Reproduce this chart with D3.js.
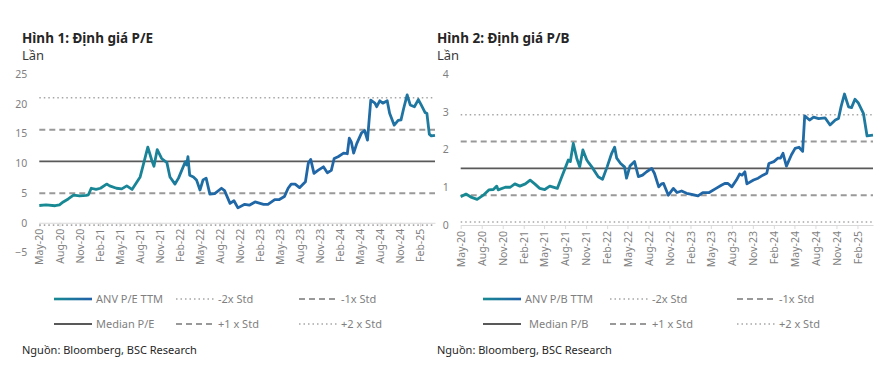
<!DOCTYPE html>
<meta charset="utf-8">
<html>
<head>
<style>
  body { margin: 0; background: #fff; }
  svg text { font-family: "Noto Sans", Lato, sans-serif; }
  .title { font-weight: bold; font-size: 13.5px; fill: #262626; }
  .unit { font-size: 13px; fill: #3a3a3a; }
  .axis text { fill: #7f7f7f; font-size: 10.5px; }
  .axis line, .axis path { stroke: #d9d9d9; }
  .legend { fill: #7f7f7f; font-size: 11px; }
  .source { fill: #262626; font-size: 11px; }
</style>
</head>
<body>
<div id="chart"></div>
<script src="https://cdn.jsdelivr.net/npm/d3@7"></script>
<script>

// P/E TTM
var peSeries = [
  ["2020-05-01", 2.9], ["2020-06-01", 3.0], ["2020-07-12", 2.86], ["2020-08-01", 3.0],
  ["2020-08-18", 3.5], ["2020-09-10", 4.0], ["2020-10-04", 4.65], ["2020-11-01", 4.5],
  ["2020-12-01", 4.6], ["2020-12-11", 4.7], ["2020-12-24", 5.8], ["2021-01-15", 5.6],
  ["2021-02-04", 5.8], ["2021-03-04", 6.5], ["2021-03-18", 6.2], ["2021-04-18", 5.8],
  ["2021-05-12", 5.7], ["2021-06-04", 6.2], ["2021-06-28", 5.6], ["2021-08-04", 7.7],
  ["2021-08-18", 9.7], ["2021-09-08", 12.7], ["2021-09-26", 10.5], ["2021-10-06", 9.5],
  ["2021-10-21", 12.3], ["2021-11-10", 10.8], ["2021-12-04", 10.1], ["2021-12-18", 7.7],
  ["2022-01-10", 6.5], ["2022-01-26", 7.5], ["2022-02-26", 10.25], ["2022-03-04", 9.7],
  ["2022-03-10", 11.1], ["2022-03-18", 8.0], ["2022-04-04", 7.7], ["2022-04-18", 7.2],
  ["2022-05-04", 5.5], ["2022-05-18", 7.2], ["2022-06-01", 7.5], ["2022-06-18", 4.8],
  ["2022-07-10", 4.9], ["2022-08-10", 5.8], ["2022-08-24", 5.4], ["2022-09-18", 3.25],
  ["2022-10-06", 3.7], ["2022-10-24", 2.5], ["2022-11-24", 3.1], ["2022-12-15", 2.95],
  ["2023-01-10", 3.5], ["2023-02-18", 3.1], ["2023-03-10", 3.1], ["2023-04-10", 3.9],
  ["2023-05-01", 3.9], ["2023-05-24", 4.4], ["2023-06-10", 5.8], ["2023-06-24", 6.5],
  ["2023-07-12", 6.5], ["2023-08-01", 5.9], ["2023-08-28", 6.9], ["2023-09-10", 10.0],
  ["2023-09-21", 10.65], ["2023-10-06", 8.3], ["2023-10-24", 8.8], ["2023-11-18", 9.4],
  ["2023-12-06", 8.4], ["2023-12-24", 8.8], ["2024-01-06", 10.8], ["2024-01-24", 11.1],
  ["2024-02-18", 11.7], ["2024-03-06", 11.6], ["2024-03-15", 14.2], ["2024-03-24", 13.6],
  ["2024-04-04", 11.7], ["2024-04-18", 13.3], ["2024-05-10", 15.1], ["2024-05-24", 15.5],
  ["2024-06-06", 13.9], ["2024-06-21", 20.6], ["2024-07-10", 20.1], ["2024-07-18", 19.5],
  ["2024-08-01", 20.5], ["2024-08-15", 20.1], ["2024-09-04", 20.5], ["2024-09-15", 18.4],
  ["2024-10-06", 16.4], ["2024-10-24", 17.2], ["2024-11-06", 17.3], ["2024-11-18", 19.2],
  ["2024-12-04", 21.5], ["2024-12-18", 19.8], ["2025-01-06", 19.5], ["2025-01-24", 20.7],
  ["2025-02-06", 19.8], ["2025-02-24", 18.5], ["2025-03-04", 18.4], ["2025-03-15", 14.9],
  ["2025-03-24", 14.6], ["2025-04-10", 14.7]
];

// P/B TTM
var pbSeries = [
  ["2020-05-01", 0.75], ["2020-05-24", 0.82], ["2020-06-18", 0.73], ["2020-07-12", 0.68],
  ["2020-08-08", 0.79], ["2020-09-01", 0.93], ["2020-09-21", 0.94], ["2020-10-06", 1.03],
  ["2020-10-12", 0.93], ["2020-11-12", 1.0], ["2020-12-04", 1.0], ["2020-12-24", 1.09],
  ["2021-01-15", 1.03], ["2021-02-08", 1.09], ["2021-03-01", 1.19], ["2021-03-21", 1.09],
  ["2021-04-12", 0.97], ["2021-05-04", 0.94], ["2021-05-26", 1.03], ["2021-06-28", 0.97],
  ["2021-07-15", 1.24], ["2021-08-01", 1.5], ["2021-08-15", 1.72], ["2021-08-24", 1.68],
  ["2021-09-06", 2.16], ["2021-09-21", 1.77], ["2021-10-04", 1.54], ["2021-10-18", 1.99],
  ["2021-11-04", 1.72], ["2021-11-12", 1.65], ["2021-11-26", 1.54], ["2021-12-24", 1.28],
  ["2022-01-12", 1.21], ["2022-02-01", 1.54], ["2022-02-21", 1.9], ["2022-03-06", 2.06],
  ["2022-03-15", 1.77], ["2022-04-01", 1.63], ["2022-04-18", 1.54], ["2022-04-27", 1.24],
  ["2022-05-12", 1.56], ["2022-06-01", 1.68], ["2022-06-18", 1.28], ["2022-07-06", 1.32],
  ["2022-07-24", 1.41], ["2022-08-15", 1.5], ["2022-08-27", 1.37], ["2022-09-15", 1.01],
  ["2022-09-27", 1.09], ["2022-10-06", 1.1], ["2022-10-27", 0.79], ["2022-11-18", 0.97],
  ["2022-12-04", 0.86], ["2022-12-24", 0.9], ["2023-01-15", 0.84], ["2023-02-06", 0.81],
  ["2023-03-06", 0.77], ["2023-03-27", 0.86], ["2023-04-24", 0.86], ["2023-05-24", 0.97],
  ["2023-06-18", 1.06], ["2023-07-01", 1.1], ["2023-07-15", 1.1], ["2023-08-01", 1.01],
  ["2023-08-21", 1.19], ["2023-09-04", 1.35], ["2023-09-15", 1.32], ["2023-09-27", 1.41],
  ["2023-10-06", 1.09], ["2023-11-04", 1.19], ["2023-11-24", 1.24], ["2023-12-15", 1.32],
  ["2024-01-01", 1.37], ["2024-01-10", 1.63], ["2024-02-01", 1.68], ["2024-02-18", 1.77],
  ["2024-03-01", 1.77], ["2024-03-12", 1.9], ["2024-03-27", 1.56], ["2024-04-18", 1.86],
  ["2024-05-04", 2.03], ["2024-05-21", 2.06], ["2024-06-06", 1.95], ["2024-06-15", 2.89],
  ["2024-07-06", 2.78], ["2024-07-24", 2.86], ["2024-08-15", 2.82], ["2024-09-12", 2.84],
  ["2024-10-04", 2.65], ["2024-10-27", 2.78], ["2024-11-10", 2.82], ["2024-11-21", 3.13],
  ["2024-12-06", 3.47], ["2024-12-24", 3.13], ["2025-01-06", 3.11], ["2025-01-21", 3.33],
  ["2025-02-04", 3.24], ["2025-02-27", 2.96], ["2025-03-15", 2.36], ["2025-04-10", 2.38]
];

// band levels: -2x, -1x, median, +1x, +2x
var peBands = [-0.4, 4.95, 10.3, 15.65, 21.0];
var pbBands = [0.08, 0.79, 1.5, 2.21, 2.92];

var peTicks = [-5, 0, 5, 10, 15, 20, 25];
var pbTicks = [0, 1, 2, 3, 4];

var peLegend = ["ANV P/E TTM", "-2x Std", "-1x Std", "Median P/E", "+1 x Std", "+2 x Std"];
var pbLegend = ["ANV P/B TTM", "-2x Std", "-1x Std", "Median P/B", "+1 x Std", "+2 x Std"];

var parse = d3.timeParse("%Y-%m-%d");
var fmt = d3.timeFormat("%b-%y");
// quarterly ticks May-20 .. Feb-25
var xTicks = d3.range(0, 58, 3).map(function(m) { return d3.timeMonth.offset(parse("2020-05-01"), m); });

var svg = d3.select("#chart").append("svg")
  .attr("width", 876).attr("height", 372);

var defs = svg.append("defs");
var grad = defs.append("linearGradient").attr("id", "lineGrad");
[[0, "#178a92"], [0.3, "#1a8398"], [0.45, "#2067a6"], [0.78, "#2166a7"], [1, "#1e7d9e"]]
  .forEach(function(s) { grad.append("stop").attr("offset", s[0]).attr("stop-color", s[1]); });
var lgrad = defs.append("linearGradient").attr("id", "legGrad");
lgrad.append("stop").attr("offset", 0).attr("stop-color", "#178a92");
lgrad.append("stop").attr("offset", 1).attr("stop-color", "#2160a8");

// line styles for the bands
var bandStyle = [
  {color: "#a6a6a6", width: 1.6, dash: "1.5,3"},
  {color: "#999999", width: 2, dash: "6,4"},
  {color: "#595959", width: 1.8, dash: null},
  {color: "#999999", width: 2, dash: "6,4"},
  {color: "#a6a6a6", width: 1.6, dash: "1.5,3"}
];

function drawPanel(p) {
  var g = svg.append("g");

  g.append("text").attr("class", "title").attr("x", p.left).attr("y", 43).text(p.title);
  g.append("text").attr("class", "unit").attr("x", p.left).attr("y", 60).text("Lần");

  var x = d3.scaleTime()
    .domain([parse("2020-05-01"), parse("2025-04-10")])
    .range([p.x0, p.x1]);
  var y = d3.scaleLinear().domain(p.yDomain).range([p.yBottom, p.yTop]);

  // y labels
  g.append("g")
    .attr("class", "axis")
    .attr("transform", "translate(" + p.x0 + ",0)")
    .call(d3.axisLeft(y).tickValues(p.yTicks).tickFormat(d3.format("d")).tickSize(0).tickPadding(12))
    .select(".domain").remove();

  // x axis sits on zero
  var xa = g.append("g")
    .attr("class", "axis")
    .attr("transform", "translate(0," + y(0) + ")")
    .call(d3.axisBottom(x).tickValues(xTicks).tickFormat(fmt).tickSize(4).tickSizeOuter(0));
  xa.selectAll("text")
    .attr("transform", "rotate(-90)")
    .attr("x", -6).attr("y", 0).attr("dy", "0.35em")
    .style("text-anchor", "end");

  // std bands
  p.bands.forEach(function(v, i) {
    var s = bandStyle[i];
    g.append("line")
      .attr("x1", p.x0).attr("x2", p.x1)
      .attr("y1", y(v)).attr("y2", y(v))
      .attr("stroke", s.color).attr("stroke-width", s.width)
      .attr("stroke-dasharray", s.dash);
  });

  var line = d3.line()
    .x(function(d) { return x(parse(d[0])); })
    .y(function(d) { return y(d[1]); });

  g.append("path")
    .datum(p.series)
    .attr("d", line)
    .attr("fill", "none")
    .attr("stroke", "url(#lineGrad)")
    .attr("stroke-width", 2.8)
    .attr("stroke-linejoin", "round");

  // legend, two rows of three
  p.legend.forEach(function(lbl, i) {
    var col = i % 3, row = Math.floor(i / 3);
    var lx = p.legX[col], ly = 299 + row * 25;
    if (i == 0) {
      // gradient swatch as a thin rect (a flat line has no bbox for the gradient)
      g.append("rect")
        .attr("x", lx).attr("y", ly - 1.3)
        .attr("width", 38).attr("height", 2.6)
        .attr("fill", "url(#legGrad)");
    } else {
      var s = bandStyle[[0, 0, 1, 2, 3, 4][i]];
      g.append("line")
        .attr("x1", lx).attr("x2", lx + 38)
        .attr("y1", ly).attr("y2", ly)
        .attr("stroke", s.color).attr("stroke-width", s.width)
        .attr("stroke-dasharray", s.dash);
    }
    g.append("text").attr("class", "legend")
      .attr("x", lx + 42 + (i == 3 ? p.medGap : 0)).attr("y", ly)
      .attr("dy", "0.35em")
      .text(lbl);
  });

  g.append("text").attr("class", "source").attr("x", p.left).attr("y", 354)
    .text("Nguồn: Bloomberg, BSC Research");
}

drawPanel({
  title: "Hình 1: Định giá P/E", left: 22,
  x0: 39.3, x1: 435, yTop: 74, yBottom: 252.5, yDomain: [-5, 25],
  yTicks: peTicks, bands: peBands, series: peSeries,
  legend: peLegend, legX: [54, 176, 299], medGap: 0
});

drawPanel({
  title: "Hình 2: Định giá P/B", left: 437,
  x0: 460.7, x1: 873, yTop: 74, yBottom: 225, yDomain: [0, 4],
  yTicks: pbTicks, bands: pbBands, series: pbSeries,
  legend: pbLegend, legX: [483, 610, 737], medGap: 4
});

</script>
</body>
</html>
